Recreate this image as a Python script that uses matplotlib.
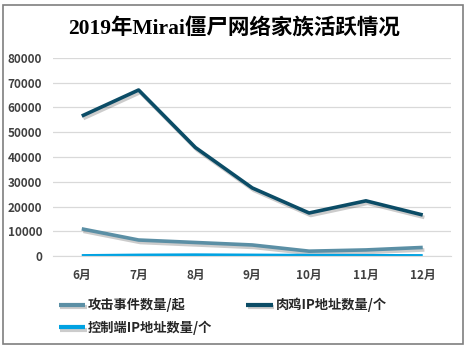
import matplotlib.pyplot as plt
import matplotlib.patheffects as pe
from matplotlib.patches import Rectangle

plt.rcParams['font.family'] = ['Noto Sans CJK SC', 'DejaVu Sans']

months = ['6月', '7月', '8月', '9月', '10月', '11月', '12月']
attacks = [11000, 6500, 5500, 4500, 2000, 2500, 3500]
bot_ips = [56500, 67000, 43800, 27500, 17400, 22300, 16600]
cc_ips = [100, 300, 400, 300, 200, 150, 100]

labels = ['攻击事件数量/起', '肉鸡IP地址数量/个', '控制端IP地址数量/个']
colors = ['#5b8fa5', '#0b4c66', '#00a2e2']

fig = plt.figure(figsize=(4.68, 3.48), dpi=100)
ax = fig.add_axes([0.114, 0.264, 0.85, 0.57])

shadow = [pe.SimpleLineShadow(offset=(1.2, -1.8), alpha=0.2), pe.Normal()]
x = range(len(months))
lines = []
for vals, lab, col in zip([attacks, bot_ips, cc_ips], labels, colors):
    ln, = ax.plot(x, vals, color=col, lw=2.6, label=lab, path_effects=shadow,
                  solid_capstyle='butt')
    lines.append(ln)

ax.set_xlim(-0.5, len(months) - 0.5)
ax.set_ylim(0, 80000)
ax.set_yticks(range(0, 80001, 10000))
ax.set_xticks(list(x))
ax.set_xticklabels(months)
ax.grid(axis='y', color='#d9d9d9', lw=0.9)
ax.set_axisbelow(True)
for s in ax.spines.values():
    s.set_visible(False)
ax.spines['bottom'].set_visible(True)
ax.spines['bottom'].set_color('#d9d9d9')
ax.tick_params(length=0, labelsize=8.5, labelcolor='#404040')
ax.tick_params(axis='y', pad=8)
ax.tick_params(axis='x', pad=9)
for t in ax.get_xticklabels() + ax.get_yticklabels():
    t.set_fontweight('bold')

fig.text(0.5, 0.918, '2019年Mirai僵尸网络家族活跃情况', ha='center', va='center',
         fontsize=15.5, fontweight='bold',
         family=['Liberation Serif', 'Noto Sans CJK SC'])

# row-wise order: attacks, bots / cc
order = [lines[0], lines[2], lines[1]]
leg = fig.legend(order, [l.get_label() for l in order], loc='upper left',
                 bbox_to_anchor=(0.1, 0.178), ncol=2, frameon=False, fontsize=9.5,
                 handlelength=2.0, handletextpad=0.2, columnspacing=2.6,
                 labelspacing=0.6)
for t in leg.get_texts():
    t.set_fontweight('bold')
    t.set_color('#262626')
for h in leg.legend_handles:
    h.set_linewidth(3)

fig.patches.append(Rectangle((0.006, 0.012), 0.984, 0.975, transform=fig.transFigure,
                             fill=False, edgecolor='#7f7f7f', lw=1.2))

fig.savefig('out.png', dpi=100)
